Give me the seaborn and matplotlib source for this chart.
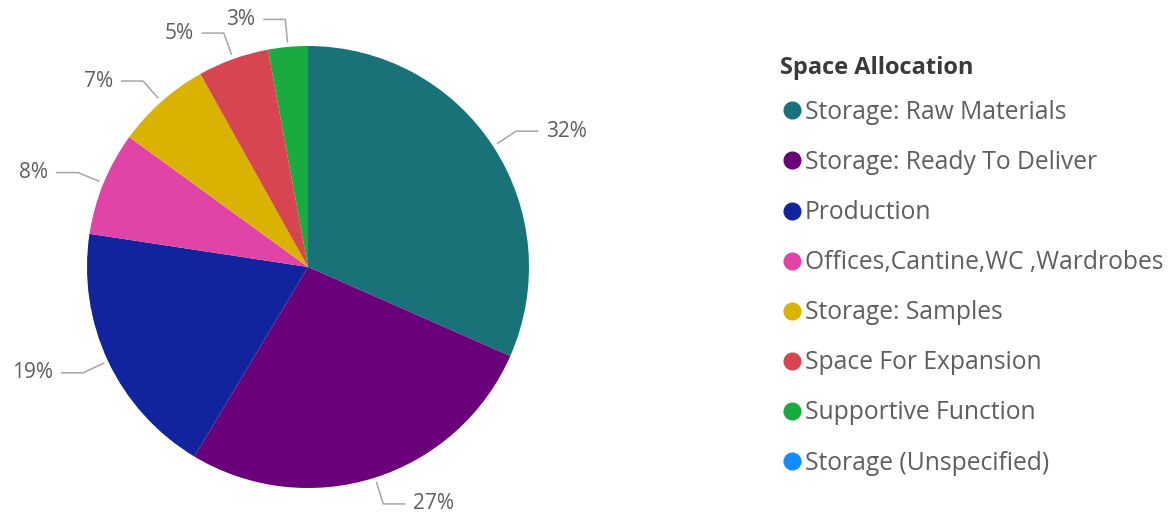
import numpy as np
import matplotlib
matplotlib.use("Agg")
import matplotlib.pyplot as plt
from matplotlib.lines import Line2D
import seaborn as sns

# Floor space shares (percent) per use
categories = [
    "Storage: Raw Materials",
    "Storage: Ready To Deliver",
    "Production",
    "Offices,Cantine,WC ,Wardrobes",
    "Storage: Samples",
    "Space For Expansion",
    "Supportive Function",
    "Storage (Unspecified)",
]
shares = [31.6, 27.0, 18.8, 7.6, 6.9, 5.2, 2.9, 0.0]
palette_hex = ["#197278", "#6B007B", "#12239E", "#E044A7",
               "#D9B300", "#D64550", "#1AAB40", "#118DFF"]
legend_title = "Space Allocation"

sns.set_theme(style="white")
plt.rcParams["font.family"] = ["Open Sans", "DejaVu Sans"]
colors = sns.color_palette(palette_hex)

W, H = 1169, 515
fig = plt.figure(figsize=(W / 100, H / 100), dpi=100)
fig.patch.set_facecolor("white")

# square axes centred on the pie; 1 data unit = 221 px
R_PX = 221.0
LIM = 1.3
side = 2 * LIM * R_PX
cx, cy = 308.0, 267.0
ax = fig.add_axes([(cx - side / 2) / W, (H - cy - side / 2) / H, side / W, side / H])

wedges, _ = ax.pie(shares, colors=colors, startangle=90, counterclock=False,
                   radius=1.0, wedgeprops=dict(linewidth=0, antialiased=True))
ax.set_xlim(-LIM, LIM)
ax.set_ylim(-LIM, LIM)
ax.set_aspect("equal")
ax.axis("off")

line_col = "#a8a6a4"
text_col = "#605e5c"
for w, v in zip(wedges, shares):
    if v <= 0:
        continue
    ang = np.deg2rad((w.theta1 + w.theta2) / 2)
    ca, sa = np.cos(ang), np.sin(ang)
    x0, y0 = 1.02 * ca, 1.02 * sa
    x1, y1 = 1.125 * ca, 1.125 * sa
    side_sign = 1 if ca >= 0 else -1
    x2 = x1 + side_sign * 0.10
    ax.plot([x0, x1, x2], [y0, y1, y1], color=line_col, lw=1.1,
            solid_capstyle="butt", clip_on=False)
    ax.text(x2 + side_sign * 0.035, y1, f"{v:.0f}%",
            ha="left" if side_sign > 0 else "right", va="center",
            fontsize=15, color=text_col, clip_on=False)

# legend heading, then the entries below it
fig.text(780 / W, 1 - 68 / H, legend_title, ha="left", va="center",
         fontsize=17, fontweight="bold", color="#3b3a39")

handles = [Line2D([0], [0], marker="o", linestyle="", markersize=12,
                  markerfacecolor=c, markeredgecolor=c) for c in colors]
leg = fig.legend(handles, categories,
                 loc="upper left", bbox_to_anchor=(785 / W, 1 - 100 / H),
                 frameon=False, fontsize=17.7, handlelength=0.6,
                 handletextpad=0.2, labelspacing=1.02, borderpad=0,
                 borderaxespad=0)
for t in leg.get_texts():
    t.set_color(text_col)

fig.savefig("out.png", dpi=100, facecolor="white")
